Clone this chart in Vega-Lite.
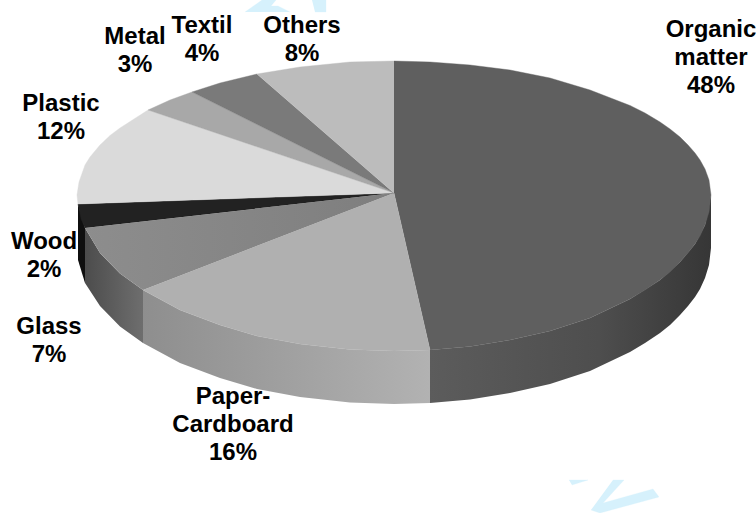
{
  "$schema": "https://vega.github.io/schema/vega-lite/v6.json",
  "width": 756,
  "height": 513,
  "padding": 0,
  "autosize": {"type": "none"},
  "background": "white",
  "view": {"stroke": null},
  "config": {"axis": {"disable": true}, "legend": {"disable": true}},
  "datasets": {
    "outline": [
      {"slice":"wm1","part":"wm","seq":0,"x":245,"y":12},{"slice":"wm1","part":"wm","seq":1,"x":262,"y":0},{"slice":"wm1","part":"wm","seq":2,"x":276,"y":0},{"slice":"wm1","part":"wm","seq":3,"x":271,"y":6},{"slice":"wm1","part":"wm","seq":4,"x":278,"y":6},{"slice":"wm1","part":"wm","seq":5,"x":290,"y":12},
      {"slice":"wm2","part":"wm","seq":0,"x":312,"y":0},{"slice":"wm2","part":"wm","seq":1,"x":326,"y":0},{"slice":"wm2","part":"wm","seq":2,"x":326,"y":12},{"slice":"wm2","part":"wm","seq":3,"x":315,"y":12},
      {"slice":"wm3","part":"wm","seq":0,"x":569,"y":480},{"slice":"wm3","part":"wm","seq":1,"x":588,"y":480},{"slice":"wm3","part":"wm","seq":2,"x":572,"y":485},
      {"slice":"wm4","part":"wm","seq":0,"x":613,"y":480},{"slice":"wm4","part":"wm","seq":1,"x":624,"y":480},{"slice":"wm4","part":"wm","seq":2,"x":603,"y":503},{"slice":"wm4","part":"wm","seq":3,"x":653,"y":489},{"slice":"wm4","part":"wm","seq":4,"x":659,"y":497},{"slice":"wm4","part":"wm","seq":5,"x":600,"y":513},{"slice":"wm4","part":"wm","seq":6,"x":591,"y":510},

      {"slice":"Organic matter","part":"wall","seq":0,"x":430,"y":350},{"slice":"Organic matter","part":"wall","seq":1,"x":470,"y":346.5},{"slice":"Organic matter","part":"wall","seq":2,"x":510,"y":340},{"slice":"Organic matter","part":"wall","seq":3,"x":550,"y":331},{"slice":"Organic matter","part":"wall","seq":4,"x":590,"y":318},{"slice":"Organic matter","part":"wall","seq":5,"x":630,"y":299},{"slice":"Organic matter","part":"wall","seq":6,"x":660,"y":280},{"slice":"Organic matter","part":"wall","seq":7,"x":680,"y":262},{"slice":"Organic matter","part":"wall","seq":8,"x":695,"y":244},{"slice":"Organic matter","part":"wall","seq":9,"x":705,"y":225},{"slice":"Organic matter","part":"wall","seq":10,"x":711,"y":195},{"slice":"Organic matter","part":"wall","seq":11,"x":711,"y":248},{"slice":"Organic matter","part":"wall","seq":11.5,"x":709,"y":265},{"slice":"Organic matter","part":"wall","seq":12,"x":705,"y":278},{"slice":"Organic matter","part":"wall","seq":12.5,"x":700,"y":289},{"slice":"Organic matter","part":"wall","seq":13,"x":695,"y":297},{"slice":"Organic matter","part":"wall","seq":13.5,"x":688,"y":306},{"slice":"Organic matter","part":"wall","seq":14,"x":680,"y":315},{"slice":"Organic matter","part":"wall","seq":14.5,"x":670,"y":325},{"slice":"Organic matter","part":"wall","seq":15,"x":660,"y":333},{"slice":"Organic matter","part":"wall","seq":15.5,"x":645,"y":343},{"slice":"Organic matter","part":"wall","seq":16,"x":630,"y":352},{"slice":"Organic matter","part":"wall","seq":17,"x":590,"y":371},{"slice":"Organic matter","part":"wall","seq":18,"x":550,"y":384},{"slice":"Organic matter","part":"wall","seq":19,"x":510,"y":393},{"slice":"Organic matter","part":"wall","seq":20,"x":470,"y":399.5},{"slice":"Organic matter","part":"wall","seq":21,"x":430,"y":403},

      {"slice":"Paper-Cardboard","part":"wall","seq":0,"x":430,"y":350},{"slice":"Paper-Cardboard","part":"wall","seq":1,"x":394,"y":351},{"slice":"Paper-Cardboard","part":"wall","seq":2,"x":350,"y":349.5},{"slice":"Paper-Cardboard","part":"wall","seq":3,"x":300,"y":344},{"slice":"Paper-Cardboard","part":"wall","seq":4,"x":257,"y":336},{"slice":"Paper-Cardboard","part":"wall","seq":5,"x":220,"y":325},{"slice":"Paper-Cardboard","part":"wall","seq":6,"x":180,"y":310},{"slice":"Paper-Cardboard","part":"wall","seq":7,"x":143,"y":290},{"slice":"Paper-Cardboard","part":"wall","seq":8,"x":143,"y":343},{"slice":"Paper-Cardboard","part":"wall","seq":9,"x":180,"y":363},{"slice":"Paper-Cardboard","part":"wall","seq":10,"x":220,"y":378},{"slice":"Paper-Cardboard","part":"wall","seq":11,"x":257,"y":389},{"slice":"Paper-Cardboard","part":"wall","seq":12,"x":300,"y":397},{"slice":"Paper-Cardboard","part":"wall","seq":13,"x":350,"y":402.5},{"slice":"Paper-Cardboard","part":"wall","seq":14,"x":394,"y":404},{"slice":"Paper-Cardboard","part":"wall","seq":15,"x":430,"y":403},

      {"slice":"Glass","part":"wall","seq":0,"x":143,"y":290},{"slice":"Glass","part":"wall","seq":1,"x":120,"y":273.5},{"slice":"Glass","part":"wall","seq":2,"x":100,"y":253},{"slice":"Glass","part":"wall","seq":3,"x":85,"y":228},{"slice":"Glass","part":"wall","seq":4,"x":85,"y":283},{"slice":"Glass","part":"wall","seq":5,"x":100,"y":306},{"slice":"Glass","part":"wall","seq":6,"x":120,"y":326.5},{"slice":"Glass","part":"wall","seq":7,"x":143,"y":343},

      {"slice":"Wood","part":"wall","seq":0,"x":85,"y":228},{"slice":"Wood","part":"wall","seq":1,"x":78,"y":204},{"slice":"Wood","part":"wall","seq":2,"x":78,"y":260},{"slice":"Wood","part":"wall","seq":3,"x":85,"y":283},

      {"slice":"Organic matter","part":"top","seq":0,"x":394,"y":193},{"slice":"Organic matter","part":"top","seq":1,"x":394,"y":61},{"slice":"Organic matter","part":"top","seq":2,"x":430,"y":62},{"slice":"Organic matter","part":"top","seq":3,"x":470,"y":65},{"slice":"Organic matter","part":"top","seq":4,"x":510,"y":70},{"slice":"Organic matter","part":"top","seq":5,"x":550,"y":78},{"slice":"Organic matter","part":"top","seq":6,"x":590,"y":90},{"slice":"Organic matter","part":"top","seq":7,"x":630,"y":105.5},{"slice":"Organic matter","part":"top","seq":7.5,"x":645,"y":113},{"slice":"Organic matter","part":"top","seq":8,"x":660,"y":122},{"slice":"Organic matter","part":"top","seq":8.5,"x":670,"y":129},{"slice":"Organic matter","part":"top","seq":9,"x":680,"y":137},{"slice":"Organic matter","part":"top","seq":9.5,"x":688,"y":145},{"slice":"Organic matter","part":"top","seq":10,"x":695,"y":153},{"slice":"Organic matter","part":"top","seq":10.5,"x":700,"y":160},{"slice":"Organic matter","part":"top","seq":11,"x":705,"y":169},{"slice":"Organic matter","part":"top","seq":11.5,"x":709,"y":180},{"slice":"Organic matter","part":"top","seq":12,"x":711,"y":195},{"slice":"Organic matter","part":"top","seq":12.5,"x":709,"y":212},{"slice":"Organic matter","part":"top","seq":13,"x":705,"y":225},{"slice":"Organic matter","part":"top","seq":13.5,"x":700,"y":236},{"slice":"Organic matter","part":"top","seq":14,"x":695,"y":244},{"slice":"Organic matter","part":"top","seq":14.5,"x":688,"y":253},{"slice":"Organic matter","part":"top","seq":15,"x":680,"y":262},{"slice":"Organic matter","part":"top","seq":15.5,"x":670,"y":272},{"slice":"Organic matter","part":"top","seq":16,"x":660,"y":280},{"slice":"Organic matter","part":"top","seq":16.5,"x":645,"y":290},{"slice":"Organic matter","part":"top","seq":17,"x":630,"y":299},{"slice":"Organic matter","part":"top","seq":18,"x":590,"y":318},{"slice":"Organic matter","part":"top","seq":19,"x":550,"y":331},{"slice":"Organic matter","part":"top","seq":20,"x":510,"y":340},{"slice":"Organic matter","part":"top","seq":21,"x":470,"y":346.5},{"slice":"Organic matter","part":"top","seq":22,"x":430,"y":350},

      {"slice":"Paper-Cardboard","part":"top","seq":0,"x":394,"y":193},{"slice":"Paper-Cardboard","part":"top","seq":1,"x":430,"y":350},{"slice":"Paper-Cardboard","part":"top","seq":2,"x":394,"y":351},{"slice":"Paper-Cardboard","part":"top","seq":3,"x":350,"y":349.5},{"slice":"Paper-Cardboard","part":"top","seq":4,"x":300,"y":344},{"slice":"Paper-Cardboard","part":"top","seq":5,"x":257,"y":336},{"slice":"Paper-Cardboard","part":"top","seq":6,"x":220,"y":325},{"slice":"Paper-Cardboard","part":"top","seq":7,"x":180,"y":310},{"slice":"Paper-Cardboard","part":"top","seq":8,"x":143,"y":290},

      {"slice":"Glass","part":"top","seq":0,"x":394,"y":193},{"slice":"Glass","part":"top","seq":1,"x":143,"y":290},{"slice":"Glass","part":"top","seq":2,"x":120,"y":273.5},{"slice":"Glass","part":"top","seq":3,"x":100,"y":253},{"slice":"Glass","part":"top","seq":4,"x":85,"y":228},

      {"slice":"Wood","part":"top","seq":0,"x":394,"y":193},{"slice":"Wood","part":"top","seq":1,"x":85,"y":228},{"slice":"Wood","part":"top","seq":2,"x":81,"y":219},{"slice":"Wood","part":"top","seq":3,"x":78,"y":204},

      {"slice":"Plastic","part":"top","seq":0,"x":394,"y":193},{"slice":"Plastic","part":"top","seq":1,"x":78,"y":204},{"slice":"Plastic","part":"top","seq":2,"x":77,"y":195},{"slice":"Plastic","part":"top","seq":3,"x":79,"y":182},{"slice":"Plastic","part":"top","seq":4,"x":85,"y":165},{"slice":"Plastic","part":"top","seq":4.5,"x":90,"y":157},{"slice":"Plastic","part":"top","seq":5,"x":100,"y":145},{"slice":"Plastic","part":"top","seq":5.5,"x":110,"y":135.5},{"slice":"Plastic","part":"top","seq":6,"x":120,"y":128},{"slice":"Plastic","part":"top","seq":7,"x":148,"y":110},

      {"slice":"Metal","part":"top","seq":0,"x":394,"y":193},{"slice":"Metal","part":"top","seq":1,"x":148,"y":110},{"slice":"Metal","part":"top","seq":2,"x":170,"y":100},{"slice":"Metal","part":"top","seq":3,"x":192,"y":92},

      {"slice":"Textil","part":"top","seq":0,"x":394,"y":193},{"slice":"Textil","part":"top","seq":1,"x":192,"y":92},{"slice":"Textil","part":"top","seq":2,"x":220,"y":83},{"slice":"Textil","part":"top","seq":3,"x":257,"y":74},

      {"slice":"Others","part":"top","seq":0,"x":394,"y":193},{"slice":"Others","part":"top","seq":1,"x":257,"y":74},{"slice":"Others","part":"top","seq":2,"x":300,"y":67},{"slice":"Others","part":"top","seq":3,"x":350,"y":62},{"slice":"Others","part":"top","seq":4,"x":394,"y":61}
    ],
    "labels": [
      {"name":"Organic matter","share":48,"label":"Organic\nmatter\n48%","x":711,"y":30},
      {"name":"Paper-Cardboard","share":16,"label":"Paper-\nCardboard\n16%","x":233,"y":397},
      {"name":"Glass","share":7,"label":"Glass\n7%","x":49,"y":327},
      {"name":"Wood","share":2,"label":"Wood\n2%","x":44,"y":242},
      {"name":"Plastic","share":12,"label":"Plastic\n12%","x":61,"y":104},
      {"name":"Metal","share":3,"label":"Metal\n3%","x":135,"y":37},
      {"name":"Textil","share":4,"label":"Textil\n4%","x":202,"y":26},
      {"name":"Others","share":8,"label":"Others\n8%","x":302,"y":26}
    ]
  },
  "data": {"name": "outline"},
  "encoding": {
    "x": {"field": "x", "type": "quantitative", "scale": {"domain": [0, 756]}, "axis": null},
    "y": {"field": "y", "type": "quantitative", "scale": {"domain": [513, 0]}, "axis": null}
  },
  "layer": [
    {
      "transform": [{"filter": "datum.part === 'wm'"}],
      "mark": {"type": "line", "fill": "#d6f1fc", "stroke": "#d6f1fc", "strokeWidth": 0.3},
      "encoding": {"detail": {"field": "slice"}, "order": {"field": "seq"}}
    },
    {
      "transform": [{"filter": "datum.part === 'wall' && datum.slice === 'Organic matter'"}],
      "mark": {"type": "line", "strokeWidth": 0, "fill": {"gradient": "linear", "x1": 0, "y1": 0, "x2": 1, "y2": 0, "stops": [{"offset": 0, "color": "#5c5c5c"}, {"offset": 0.6, "color": "#4e4e4e"}, {"offset": 1, "color": "#363636"}]}},
      "encoding": {"order": {"field": "seq"}}
    },
    {
      "transform": [{"filter": "datum.part === 'wall' && datum.slice === 'Paper-Cardboard'"}],
      "mark": {"type": "line", "strokeWidth": 0, "fill": {"gradient": "linear", "x1": 0, "y1": 0, "x2": 1, "y2": 0, "stops": [{"offset": 0, "color": "#8e8e8e"}, {"offset": 1, "color": "#b2b2b2"}]}},
      "encoding": {"order": {"field": "seq"}}
    },
    {
      "transform": [{"filter": "datum.part === 'wall' && datum.slice === 'Glass'"}],
      "mark": {"type": "line", "strokeWidth": 0, "fill": {"gradient": "linear", "x1": 0, "y1": 0, "x2": 1, "y2": 0, "stops": [{"offset": 0, "color": "#4c4c4c"}, {"offset": 1, "color": "#6e6e6e"}]}},
      "encoding": {"order": {"field": "seq"}}
    },
    {
      "transform": [{"filter": "datum.part === 'wall' && datum.slice === 'Wood'"}],
      "mark": {"type": "line", "strokeWidth": 0, "fill": "#0f0f0f"},
      "encoding": {"order": {"field": "seq"}}
    },
    {
      "transform": [{"filter": "datum.part === 'top' && datum.slice !== 'Glass'"}],
      "mark": {"type": "line", "strokeWidth": 0.4},
      "encoding": {
        "order": {"field": "seq"},
        "fill": {"field": "slice", "type": "nominal", "legend": null, "scale": {
          "domain": ["Organic matter", "Paper-Cardboard", "Wood", "Plastic", "Metal", "Textil", "Others"],
          "range": ["#5f5f5f", "#b0b0b0", "#222222", "#dadada", "#a8a8a8", "#7a7a7a", "#bcbcbc"]}},
        "stroke": {"field": "slice", "type": "nominal", "legend": null, "scale": {
          "domain": ["Organic matter", "Paper-Cardboard", "Wood", "Plastic", "Metal", "Textil", "Others"],
          "range": ["#5f5f5f", "#b0b0b0", "#222222", "#dadada", "#a8a8a8", "#7a7a7a", "#bcbcbc"]}}
      }
    },
    {
      "transform": [{"filter": "datum.part === 'top' && datum.slice === 'Glass'"}],
      "mark": {"type": "line", "strokeWidth": 0, "fill": {"gradient": "linear", "x1": 0, "y1": 0, "x2": 1, "y2": 0, "stops": [{"offset": 0, "color": "#8d8d8d"}, {"offset": 1, "color": "#7e7e7e"}]}},
      "encoding": {"order": {"field": "seq"}}
    },
    {
      "data": {"name": "labels"},
      "mark": {"type": "text", "font": "Liberation Sans", "fontWeight": "bold", "fontSize": 24, "lineHeight": 28, "lineBreak": "\n", "align": "center", "baseline": "middle", "color": "#000000"},
      "encoding": {"text": {"field": "label", "type": "nominal"}}
    }
  ]
}
